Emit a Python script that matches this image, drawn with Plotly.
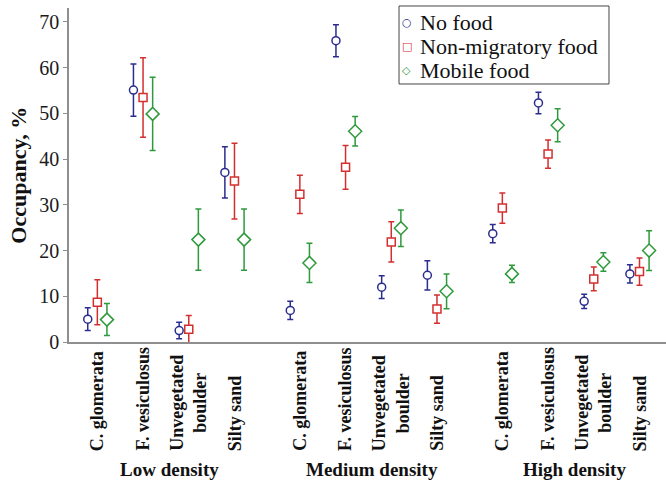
import plotly.graph_objects as go

# Habitat categories within each density treatment
habitats = ["C. glomerata", "F. vesiculosus", "Unvegetated<br>boulder", "Silty sand"]
densities = ["Low density", "Medium density", "High density"]

# Occupancy (%) per density x habitat, in order Low, Medium, High
no_food = [5.0, 55.1, 2.5, 37.1,
           6.9, 65.9, 12.0, 14.6,
           23.7, 52.3, 8.9, 14.9]
no_food_err = [2.5, 5.7, 1.8, 5.6,
               2.0, 3.5, 2.5, 3.2,
               2.0, 2.35, 1.55, 2.0]

non_migratory = [8.7, 53.5, 2.8, 35.2,
                 32.3, 38.2, 21.9, 7.2,
                 29.3, 41.1, 13.8, 15.4]
non_migratory_err = [4.9, 8.7, 3.0, 8.3,
                     4.2, 4.8, 4.4, 3.1,
                     3.3, 3.1, 2.6, 3.0]

mobile = [4.9, 49.9, 22.4, 22.4,
          17.3, 46.1, 24.9, 11.1,
          14.9, 47.4, 17.5, 20.0]
mobile_err = [3.5, 8.0, 6.7, 6.7,
              4.3, 3.25, 4.0, 3.8,
              1.9, 3.6, 2.0, 4.35]

y_ticks = [0, 10, 20, 30, 40, 50, 60, 70]

# Layout of the numeric category axis
GROUP_STEP = 4.43      # distance between first habitats of consecutive groups
SERIES_SHIFT = 0.21    # horizontal dodge of each series
centers = [g * GROUP_STEP + i for g in range(len(densities)) for i in range(len(habitats))]

SERIF = "Liberation Serif"
series = [
    ("No food", no_food, no_food_err, "#2B2D8E", "circle", 8, -SERIES_SHIFT, "\u25CB"),
    ("Non-migratory food", non_migratory, non_migratory_err, "#D42F2F", "square", 8, 0.0, "\u25A1"),
    ("Mobile food", mobile, mobile_err, "#2E9A3C", "diamond", 10, SERIES_SHIFT, "\u25C7"),
]

fig = go.Figure()
for name, vals, errs, color, symbol, size, shift, _ in series:
    fig.add_trace(go.Scatter(
        x=[c + shift for c in centers],
        y=vals,
        mode="markers",
        name=name,
        showlegend=False,
        marker=dict(symbol=symbol, size=size, color="white",
                    line=dict(color=color, width=1.5)),
        error_y=dict(type="data", array=errs, visible=True,
                     color=color, thickness=1.5, width=3),
    ))

annotations = []

# Rotated habitat labels under the axis
for idx, c in enumerate(centers):
    annotations.append(dict(
        x=c, xref="x", y=-0.332, yref="paper",
        text="<b>" + habitats[idx % len(habitats)] + "</b>",
        textangle=-90, showarrow=False,
        xanchor="center", yanchor="bottom", align="center",
        font=dict(family=SERIF, size=18, color="#111111"),
    ))

# Density group labels
for g, dens in enumerate(densities):
    annotations.append(dict(
        x=g * GROUP_STEP + 1.58, xref="x", y=-0.383, yref="paper",
        text="<b>" + dens + "</b>", showarrow=False,
        xanchor="center", yanchor="middle",
        font=dict(family=SERIF, size=19, color="#111111"),
    ))

# Y-axis title
annotations.append(dict(
    x=-0.086, xref="paper", y=0.5, yref="paper",
    text="<b>Occupancy, %</b>", textangle=-90, showarrow=False,
    xanchor="center", yanchor="middle",
    font=dict(family=SERIF, size=22, color="#111111"),
))

# Boxed legend: small outline glyphs followed by series names
legend_rows = [0.956, 0.884, 0.814]
for (name, _, _, color, _, _, _, glyph), ly in zip(series, legend_rows):
    annotations.append(dict(
        x=0.566, xref="paper", y=ly, yref="paper", text=glyph,
        showarrow=False, xanchor="center", yanchor="middle",
        font=dict(family="DejaVu Sans", size=11, color=color),
    ))
    annotations.append(dict(
        x=0.584, xref="paper", y=ly, yref="paper", text=name,
        showarrow=False, xanchor="left", yanchor="middle",
        font=dict(family=SERIF, size=22, color="#111111"),
    ))

fig.update_layout(
    width=666, height=485,
    margin=dict(l=69, r=0, t=8, b=143),
    paper_bgcolor="white", plot_bgcolor="white",
    showlegend=False,
    annotations=annotations,
    shapes=[dict(type="rect", xref="paper", yref="paper",
                 x0=0.5528, x1=0.9045, y0=0.7725, y1=1.006,
                 line=dict(color="#444444", width=1), fillcolor="white",
                 layer="above")],
    xaxis=dict(
        range=[-0.62, 12.44], showgrid=False, zeroline=False,
        showticklabels=False, ticks="",
        showline=True, linecolor="#8F8F8F", linewidth=1.5,
    ),
    yaxis=dict(
        range=[0, 73.06], tickvals=y_ticks, showgrid=False, zeroline=False,
        showline=True, linecolor="#8F8F8F", linewidth=1.5,
        ticks="outside", ticklen=4, tickwidth=1, tickcolor="#8F8F8F",
        tickfont=dict(family=SERIF, size=20, color="#1A1A1A"),
    ),
)

fig.write_html("out.html")
